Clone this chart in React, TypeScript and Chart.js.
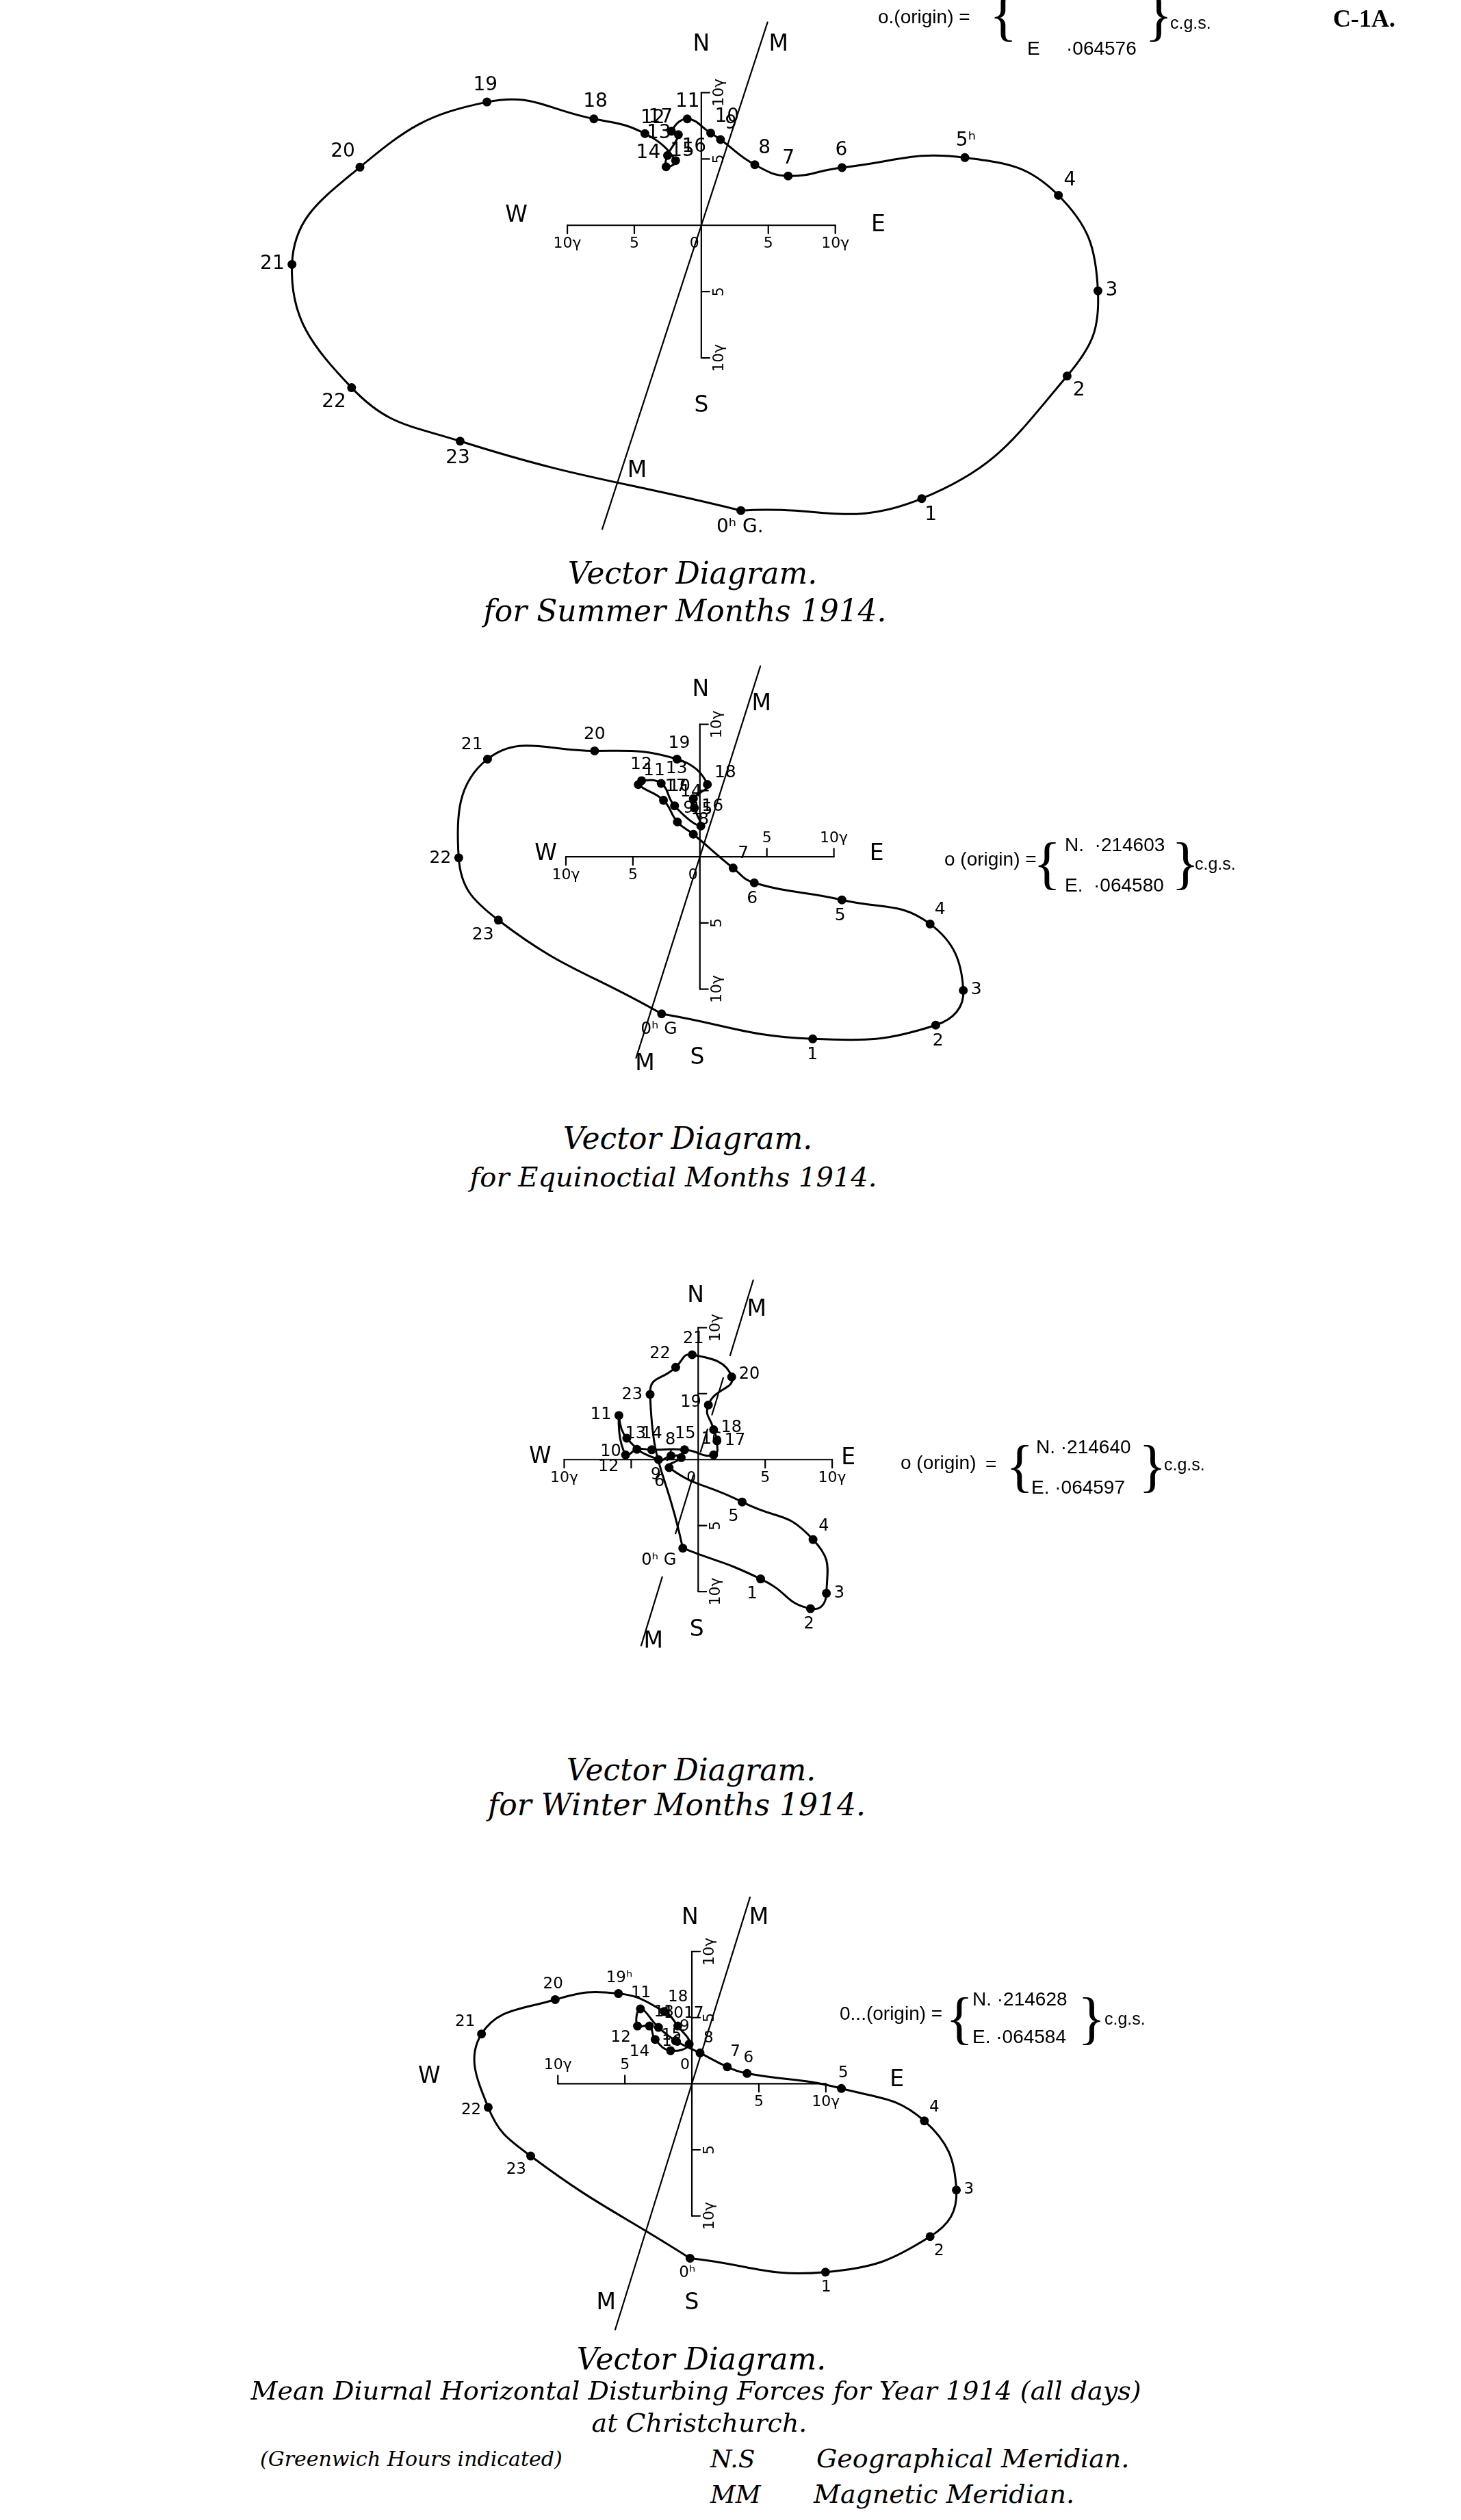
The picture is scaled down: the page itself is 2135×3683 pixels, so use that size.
import React, { useEffect, useRef } from "react";
import { Chart, registerables } from "chart.js";
Chart.register(...registerables);

const PX_PER_GAMMA = 19.7;
const PAGE_W = 2135;
const PAGE_H = 3683;

// ---------- data (gamma: east component, north component) ----------
const summerHours = ["0ʰ G.", "1", "2", "3", "4", "5ʰ", "6", "7", "8", "9", "10", "11", "12", "13", "14", "15", "16", "17", "18", "19", "20", "21", "22", "23"];
const summerEast = [2.95, 16.45, 27.3, 29.6, 26.65, 19.67, 10.5, 6.48, 3.99, 1.43, 0.7, -1.05, -2.23, -1.71, -2.52, -2.63, -1.92, -4.21, -8.02, -16.0, -25.48, -30.55, -26.1, -18.0];
const summerNorth = [-21.5, -20.6, -11.36, -4.94, 2.26, 5.1, 4.35, 3.72, 4.57, 6.46, 6.95, 8.02, 7.09, 6.83, 5.26, 4.41, 4.88, 6.91, 8.02, 9.29, 4.38, -2.95, -12.24, -16.27];

const equinoxHours = ["0ʰ G", "1", "2", "3", "4", "5", "6", "7", "8", "9", "10", "11", "12", "13", "14", "15", "16", "17", "18", "19", "20", "21", "22", "23"];
const equinoxEast = [-2.86, 8.42, 17.6, 19.66, 17.18, 10.6, 4.06, 2.48, -0.49, -1.68, -2.72, -4.6, -4.35, -2.89, -1.89, 0.07, -0.41, -0.49, 0.56, -1.71, -7.86, -15.85, -18.0, -15.04];
const equinoxNorth = [-11.87, -13.76, -12.72, -10.1, -5.08, -3.26, -1.97, -0.85, 1.7, 2.63, 4.27, 5.45, 5.75, 5.54, 3.85, 2.32, 3.68, 4.39, 5.46, 7.38, 8.0, 7.38, -0.08, -4.79];

const winterHours = ["0ʰ G", "1", "2", "3", "4", "5", "6", "7", "8", "9", "10", "11", "12", "13", "14", "15", "16", "17", "18", "19", "20", "21", "22", "23"];
const winterEast = [-1.15, 4.66, 8.38, 9.57, 8.57, 3.28, -2.17, -1.27, -2.03, -2.96, -5.33, -5.92, -5.42, -4.57, -3.47, -1.02, 1.15, 1.4, 1.15, 0.76, 2.5, -0.45, -1.68, -3.59];
const winterNorth = [-6.71, -9.04, -11.3, -10.13, -6.06, -3.21, -0.61, 0.15, 0.29, 0.0, 1.62, 3.35, 0.36, 0.78, 0.75, 0.75, 0.36, 1.42, 2.27, 4.14, 6.27, 7.95, 7.0, 4.94];

const yearHours = ["0ʰ", "1", "2", "3", "4", "5", "6", "7", "8", "9", "10", "11", "12", "13", "14", "15", "16", "17", "18", "19ʰ", "20", "21", "22", "23"];
const yearEast = [-0.14, 9.97, 17.78, 19.74, 17.35, 11.16, 4.12, 2.64, 0.61, -1.22, -2.49, -3.84, -4.06, -3.17, -2.74, -1.59, -0.2, -1.05, -2.06, -5.48, -10.2, -15.7, -15.2, -12.03];
const yearNorth = [-13.2, -14.25, -11.56, -8.04, -2.81, -0.36, 0.78, 1.28, 2.33, 3.25, 4.26, 5.66, 4.36, 4.36, 3.35, 2.5, 3.0, 4.36, 5.46, 6.82, 6.36, 3.76, -1.79, -5.47];

const axisTickValues = [-10, -5, 0, 5, 10];
const axisTickLabels = ["10γ", "5", "0", "5", "10γ"];

// ---------- layout ----------
type Letter = { t: string; x: number; y: number };
type Diagram = {
  key: string;
  hours: string[];
  east: number[];
  north: number[];
  top: number;
  height: number;
  ox: number;
  oy: number;
  dec: number;
  mSeg: number[][];
  letters: Letter[];
  hSide: [number, number];
  hHide: number[];
  vHide: number[];
  labelFont: number;
  tension: number;
};

const diagrams: Diagram[] = [
  {
    key: "summer", hours: summerHours, east: summerEast, north: summerNorth,
    top: 0, height: 830, ox: 1024.6, oy: 327.9, dec: 17.9, mSeg: [[-22.9, 15.3]],
    letters: [{ t: "N", x: 0, y: 13.6 }, { t: "M", x: 5.76, y: 13.6 }, { t: "S", x: 0, y: -13.6 }, { t: "M", x: -4.8, y: -18.5 }, { t: "W", x: -13.8, y: 0.7 }, { t: "E", x: 13.2, y: 0 }],
    hSide: [1, 1], hHide: [], vHide: [], labelFont: 28, tension: 0.45,
  },
  {
    key: "equinox", hours: equinoxHours, east: equinoxEast, north: equinoxNorth,
    top: 900, height: 720, ox: 1022.5, oy: 1252, dec: 17.4, mSeg: [[-15.2, 14.4]],
    letters: [{ t: "N", x: 0.05, y: 12.6 }, { t: "M", x: 4.6, y: 11.5 }, { t: "S", x: -0.2, y: -15.2 }, { t: "M", x: -4.1, y: -15.7 }, { t: "W", x: -11.5, y: 0.2 }, { t: "E", x: 13.2, y: 0.2 }],
    hSide: [1, -1], hHide: [], vHide: [5], labelFont: 25, tension: 0.45,
  },
  {
    key: "winter", hours: winterHours, east: winterEast, north: winterNorth,
    top: 1840, height: 610, ox: 1020, oy: 2133, dec: 16.8,
    mSeg: [[7.9, 13.6], [3.4, 6.2], [0.6, 2.3], [-1.2, -5.6], [-8.9, -14.1]],
    letters: [{ t: "N", x: -0.19, y: 12.4 }, { t: "M", x: 4.36, y: 11.35 }, { t: "S", x: -0.1, y: -12.9 }, { t: "M", x: -3.35, y: -13.8 }, { t: "W", x: -11.8, y: 0.2 }, { t: "E", x: 11.2, y: 0.1 }],
    hSide: [1, 1], hHide: [-5], vHide: [5], labelFont: 24, tension: 0.55,
  },
  {
    key: "year", hours: yearHours, east: yearEast, north: yearNorth,
    top: 2760, height: 680, ox: 1010.7, oy: 3044.3, dec: 17.1, mSeg: [[-18.6, 14.1]],
    letters: [{ t: "N", x: -0.14, y: 12.5 }, { t: "M", x: 5.0, y: 12.5 }, { t: "S", x: 0, y: -16.6 }, { t: "M", x: -6.4, y: -16.6 }, { t: "W", x: -19.6, y: 0.54 }, { t: "E", x: 15.3, y: 0.24 }],
    hSide: [-1, 1], hHide: [], vHide: [], labelFont: 23, tension: 0.45,
  },
];

function decor(d: Diagram) {
  return {
    id: "decor_" + d.key,
    beforeDatasetsDraw(chart: any) {
      const ctx: CanvasRenderingContext2D = chart.ctx;
      const X = chart.scales.x;
      const Y = chart.scales.y;
      const px = (v: number) => X.getPixelForValue(v);
      const py = (v: number) => Y.getPixelForValue(v);
      ctx.save();
      ctx.strokeStyle = "#000";
      ctx.fillStyle = "#000";
      ctx.lineWidth = 2.2;
      ctx.lineCap = "round";
      // cross
      ctx.beginPath();
      ctx.moveTo(px(-10), py(0));
      ctx.lineTo(px(10), py(0));
      ctx.moveTo(px(0), py(10));
      ctx.lineTo(px(0), py(-10));
      ctx.stroke();
      for (const v of axisTickValues) {
        if (v === 0) continue;
        const side = v < 0 ? d.hSide[0] : d.hSide[1];
        ctx.beginPath();
        ctx.moveTo(px(v), py(0));
        ctx.lineTo(px(v), py(0) + side * 12);
        ctx.moveTo(px(0), py(v));
        ctx.lineTo(px(0) + 12, py(v));
        ctx.stroke();
      }
      // tick labels
      ctx.font = "22px 'DejaVu Sans'";
      axisTickValues.forEach((v, i) => {
        if (d.hHide.includes(v)) return;
        const side = v <= 0 ? d.hSide[0] : d.hSide[1];
        ctx.textAlign = "center";
        ctx.textBaseline = side > 0 ? "top" : "bottom";
        const x = v === 0 ? px(0) - 10 : px(v);
        ctx.fillText(axisTickLabels[i], x, py(0) + side * 16);
      });
      axisTickValues.forEach((v, i) => {
        if (v === 0 || d.vHide.includes(v)) return;
        ctx.save();
        ctx.translate(px(0) + 15, py(v));
        ctx.rotate(-Math.PI / 2);
        ctx.textAlign = "center";
        ctx.textBaseline = "top";
        ctx.fillText(axisTickLabels[i], 0, 0);
        ctx.restore();
      });
      // magnetic meridian
      const t = Math.tan((d.dec * Math.PI) / 180);
      ctx.lineWidth = 2.2;
      ctx.beginPath();
      for (const [a, b] of d.mSeg) {
        ctx.moveTo(px(a * t), py(a));
        ctx.lineTo(px(b * t), py(b));
      }
      ctx.stroke();
      // compass letters
      ctx.font = "33px 'DejaVu Sans'";
      ctx.textAlign = "center";
      ctx.textBaseline = "middle";
      for (const L of d.letters) ctx.fillText(L.t, px(L.x), py(L.y));
      ctx.restore();
    },
    afterDatasetsDraw(chart: any) {
      const ctx: CanvasRenderingContext2D = chart.ctx;
      const X = chart.scales.x;
      const Y = chart.scales.y;
      const n = d.hours.length;
      const pts = d.hours.map((_, i) => ({ x: X.getPixelForValue(d.east[i]), y: Y.getPixelForValue(d.north[i]) }));
      let cx = 0;
      let cy = 0;
      pts.forEach((p) => { cx += p.x / n; cy += p.y / n; });
      ctx.save();
      ctx.fillStyle = "#000";
      ctx.font = `${d.labelFont}px 'DejaVu Sans'`;
      for (let i = 0; i < n; i++) {
        const p = pts[i];
        const a = pts[(i - 1 + n) % n];
        const b = pts[(i + 1) % n];
        const tx = b.x - a.x;
        const ty = b.y - a.y;
        const len = Math.hypot(tx, ty) || 1;
        let nx = -ty / len;
        let ny = tx / len;
        if ((p.x - cx) * nx + (p.y - cy) * ny < 0) { nx = -nx; ny = -ny; }
        const dist = 11;
        ctx.textAlign = nx > 0.38 ? "left" : nx < -0.38 ? "right" : "center";
        ctx.textBaseline = ny > 0.38 ? "top" : ny < -0.38 ? "bottom" : "middle";
        ctx.fillText(d.hours[i], p.x + nx * dist, p.y + ny * dist);
      }
      ctx.restore();
    },
  };
}

function VectorChart({ d }: { d: Diagram }) {
  const ref = useRef<HTMLCanvasElement>(null);
  useEffect(() => {
    const canvas = ref.current;
    if (!canvas) return;
    const S = PX_PER_GAMMA;
    const n = d.hours.length;
    const pts = d.hours.map((_, i) => ({ x: d.east[i], y: d.north[i] }));
    const chart = new Chart(canvas, {
      type: "scatter",
      data: {
        datasets: [
          {
            data: [...pts, pts[0]],
            showLine: true,
            borderColor: "#000",
            borderWidth: 3,
            tension: d.tension,
            pointRadius: (c: any) => (c.dataIndex === n ? 0 : 6.5),
            pointHoverRadius: 0,
            pointBackgroundColor: "#000",
            pointBorderColor: "#000",
            pointBorderWidth: 0,
          } as any,
        ],
      },
      options: {
        animation: false,
        responsive: false,
        maintainAspectRatio: false,
        devicePixelRatio: 1,
        events: [],
        layout: { padding: 0 },
        plugins: { legend: { display: false }, tooltip: { enabled: false }, title: { display: false } },
        scales: {
          x: { type: "linear", display: false, min: -d.ox / S, max: (PAGE_W - d.ox) / S },
          y: { type: "linear", display: false, min: -(d.top + d.height - d.oy) / S, max: (d.oy - d.top) / S },
        },
      },
      plugins: [decor(d)],
    } as any);
    return () => chart.destroy();
  }, [d]);
  return (
    <canvas
      ref={ref}
      width={PAGE_W}
      height={d.height}
      style={{ position: "absolute", left: 0, top: d.top, width: PAGE_W, height: d.height }}
    />
  );
}

type TProps = { x: number; y: number; size: number; text: string; family?: string; italic?: boolean; bold?: boolean; center?: boolean };
function T({ x, y, size, text, family = "'Liberation Sans'", italic = false, bold = false, center = false }: TProps) {
  return (
    <div
      style={{
        position: "absolute",
        left: center ? x - 1000 : x,
        top: y - size * 0.6,
        width: center ? 2000 : undefined,
        textAlign: center ? "center" : "left",
        fontSize: size,
        lineHeight: `${size * 1.2}px`,
        fontFamily: family,
        fontStyle: italic ? "italic" : "normal",
        fontWeight: bold ? 700 : 400,
        whiteSpace: "pre",
        color: "#000",
      }}
    >
      {text}
    </div>
  );
}

const SERIF = "'DejaVu Serif'";
const BRACE = "'Liberation Serif'";

export default function App() {
  return (
    <div style={{ position: "absolute", left: 0, top: 0, width: PAGE_W, height: PAGE_H, background: "#fff", overflow: "hidden" }}>
      {diagrams.map((d) => (
        <VectorChart key={d.key} d={d} />
      ))}

      {/* summer header */}
      <T x={1283} y={25} size={28} text="o.(origin) =" />
      <T x={1446} y={22} size={84} text="{" family={BRACE} />
      <T x={1501} y={-20} size={28} text="N" />
      <T x={1558} y={-20} size={28} text="·214636" />
      <T x={1501} y={71} size={28} text="E" />
      <T x={1558} y={71} size={28} text="·064576" />
      <T x={1673} y={22} size={84} text="}" family={BRACE} />
      <T x={1710} y={33} size={25} text="c.g.s." />
      <T x={1948} y={28} size={36} text="C-1A." family={"'Liberation Serif'"} bold />
      <T x={1012} y={838} size={44} text="Vector Diagram." family={SERIF} italic center />
      <T x={1001} y={893} size={44} text="for Summer Months 1914." family={SERIF} italic center />

      {/* equinox */}
      <T x={1380} y={1256} size={28} text="o (origin) =" />
      <T x={1510} y={1262} size={84} text="{" family={BRACE} />
      <T x={1556} y={1235} size={28} text="N.  ·214603" />
      <T x={1556} y={1294} size={28} text="E.  ·064580" />
      <T x={1712} y={1262} size={84} text="}" family={BRACE} />
      <T x={1746} y={1262} size={25} text="c.g.s." />
      <T x={1005} y={1664} size={44} text="Vector Diagram." family={SERIF} italic center />
      <T x={984} y={1720} size={40} text="for Equinoctial Months 1914." family={SERIF} italic center />

      {/* winter */}
      <T x={1316} y={2138} size={28} text="o (origin)" />
      <T x={1440} y={2140} size={28} text="=" />
      <T x={1470} y={2143} size={84} text="{" family={BRACE} />
      <T x={1514} y={2115} size={28} text="N. ·214640" />
      <T x={1507} y={2174} size={28} text="E. ·064597" />
      <T x={1664} y={2143} size={84} text="}" family={BRACE} />
      <T x={1701} y={2140} size={25} text="c.g.s." />
      <T x={1010} y={2587} size={44} text="Vector Diagram." family={SERIF} italic center />
      <T x={989} y={2638} size={44} text="for Winter Months 1914." family={SERIF} italic center />

      {/* year */}
      <T x={1227} y={2943} size={28} text="0...(origin) =" />
      <T x={1382} y={2950} size={84} text="{" family={BRACE} />
      <T x={1421} y={2922} size={28} text="N. ·214628" />
      <T x={1421} y={2977} size={28} text="E. ·064584" />
      <T x={1575} y={2950} size={84} text="}" family={BRACE} />
      <T x={1614} y={2950} size={25} text="c.g.s." />
      <T x={1025} y={3448} size={44} text="Vector Diagram." family={SERIF} italic center />
      <T x={1017} y={3495} size={38} text="Mean Diurnal Horizontal Disturbing Forces for Year 1914 (all days)" family={SERIF} italic center />
      <T x={1022} y={3542} size={38} text="at Christchurch." family={SERIF} italic center />
      <T x={380} y={3594} size={30} text="(Greenwich Hours indicated)" family={SERIF} italic />
      <T x={1038} y={3594} size={36} text="N.S" family={SERIF} italic />
      <T x={1193} y={3594} size={38} text="Geographical Meridian." family={SERIF} italic />
      <T x={1038} y={3646} size={36} text="MM" family={SERIF} italic />
      <T x={1189} y={3646} size={38} text="Magnetic Meridian." family={SERIF} italic />
    </div>
  );
}
